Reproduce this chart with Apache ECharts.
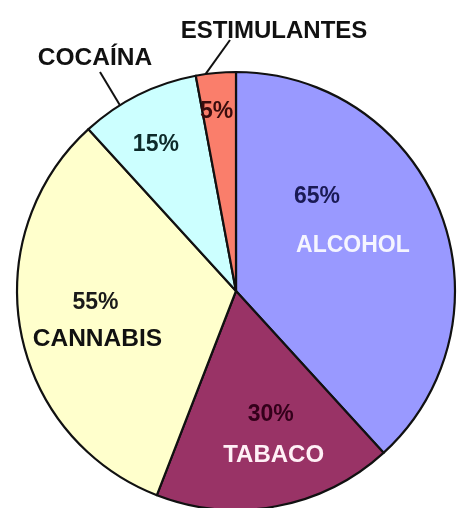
<!DOCTYPE html>
<html>
<head>
<meta charset="utf-8">
<script src="https://cdn.jsdelivr.net/npm/echarts@6/dist/echarts.min.js"></script>
<style>
  html, body { margin: 0; padding: 0; background: #fff; }
  #chart { width: 457px; height: 508px; }
</style>
</head>
<body>
<div id="chart"></div>
<script>
  // datos
  var categories = ['ALCOHOL', 'TABACO', 'CANNABIS', 'COCAÍNA', 'ESTIMULANTES'];
  var values = [65, 30, 55, 15, 5];

  // estilos
  var sliceColors = ['#9999FF', '#993366', '#FFFFCC', '#CCFFFF', '#FA7E6B'];
  var pctColors = ['#1a1a55', '#33001a', '#1a1a1a', '#0d2a2a', '#3a0d0d'];
  var nameColors = ['#F5F5FF', '#FFF0F6', '#111111', '#111111', '#111111'];
  var nameSizes = [23, 24, 24.5, 24.5, 24];
  var pctOffsets = [[-24, -54], [14, 13], [-30, -9], [-30, -46], [-9, -67]];
  var nameOffsets = [[12, -5], [17, 54], [-28, 28], null, null];
  var outsideNames = {
    3: {x: 95, y: 58, angle: 328, end: [100, 72]},
    4: {x: 274, y: 31, angle: 352, end: [230, 40]}
  };
  var CX = 236, CY = 291, R = 219;
  var FONT = {fontFamily: 'Liberation Sans, Arial, sans-serif', fontWeight: 'bold', fontSize: 23};

  function arcPoint (a) {
    var t = a * Math.PI / 180;
    return [CX + R * Math.sin(t), CY - R * Math.cos(t)];
  }

  var pieData = categories.map(function (name, i) {
    return {
      name: name,
      value: values[i],
      itemStyle: {color: sliceColors[i]},
      label: {color: pctColors[i]}
    };
  });

  var nameData = categories.map(function (name, i) {
    return {
      name: name,
      value: values[i],
      label: {
        color: nameColors[i],
        fontSize: nameSizes[i],
        position: outsideNames[i] ? 'outside' : 'inside'
      },
      labelLine: {show: !!outsideNames[i]}
    };
  });

  var myChart = echarts.init(document.getElementById('chart'));
  myChart.setOption({
    animation: false,
    series: [
      {
        name: 'porcentajes',
        type: 'pie',
        center: [CX, CY],
        radius: R,
        startAngle: 90,
        clockwise: true,
        avoidLabelOverlap: false,
        silent: true,
        itemStyle: {borderColor: '#111', borderWidth: 2.2},
        label: Object.assign({
          show: true,
          position: 'inside',
          formatter: '{c}%',
          textBorderWidth: 0,
          overflow: 'none'
        }, FONT),
        labelLayout: function (params) {
          var o = pctOffsets[params.dataIndex];
          return {dx: o[0], dy: o[1]};
        },
        data: pieData
      },
      {
        name: 'nombres',
        type: 'pie',
        center: [CX, CY],
        radius: R,
        startAngle: 90,
        clockwise: true,
        avoidLabelOverlap: false,
        silent: true,
        itemStyle: {color: 'rgba(0,0,0,0)', borderWidth: 0},
        label: Object.assign({
          show: true,
          formatter: '{b}',
          textBorderWidth: 0,
          overflow: 'none'
        }, FONT),
        labelLine: {length: 20, length2: 0, lineStyle: {color: '#111', width: 2}},
        labelLayout: function (params) {
          var i = params.dataIndex;
          var out = outsideNames[i];
          if (out) {
            return {
              x: out.x, y: out.y, align: 'center', verticalAlign: 'middle',
              labelLinePoints: [arcPoint(out.angle), out.end]
            };
          }
          var o = nameOffsets[i];
          return {dx: o[0], dy: o[1]};
        },
        data: nameData
      }
    ]
  });
</script>
</body>
</html>
